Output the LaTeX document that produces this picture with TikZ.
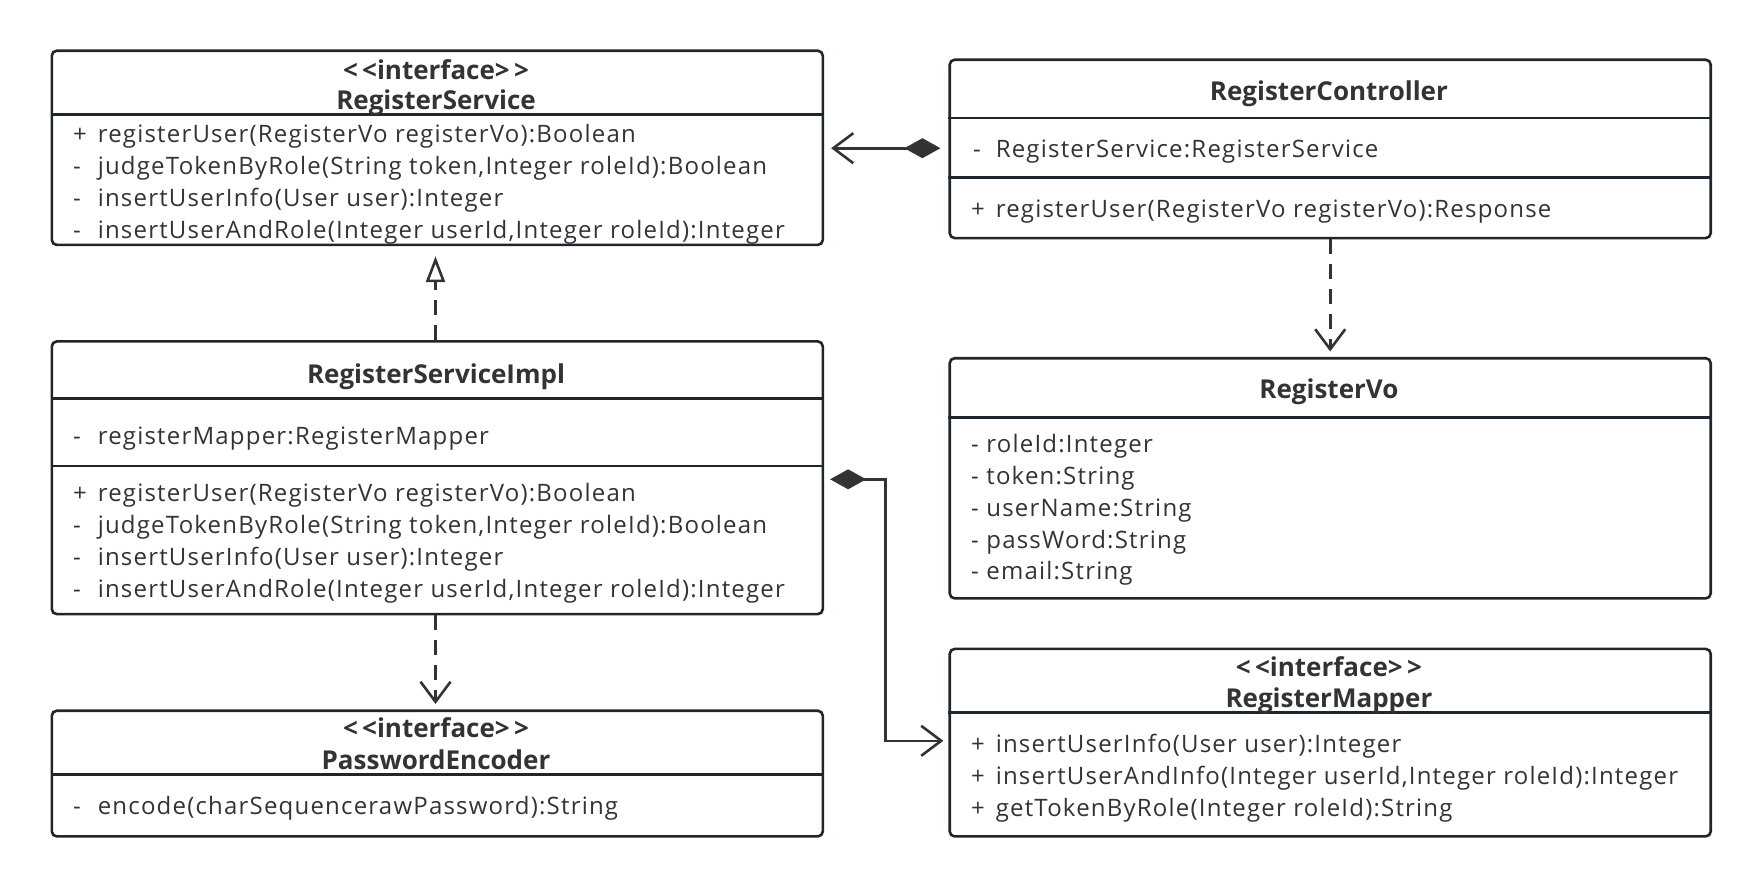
\documentclass[tikz,border=0pt]{standalone}
\usepackage{fontspec}
\setmainfont{Open Sans}
\newfontfamily\memberfont[LetterSpace=5]{Open Sans}
\usetikzlibrary{arrows.meta}
\definecolor{boxline}{HTML}{1F262D}
\definecolor{inkgray}{HTML}{333333}

\begin{document}
\begin{tikzpicture}[x=1pt,y=-1pt,
  umlbox/.style={draw=boxline, line width=2.6pt, rounded corners=5pt, anchor=north west, inner sep=0pt},
  divider/.style={draw=boxline, line width=2.6pt},
  member/.style={anchor=west, inner sep=0pt, yshift=-5pt, text=inkgray, font=\memberfont\fontsize{24}{28}\selectfont, text height=0.9em, text depth=0.1em},
  headline/.style={anchor=center, inner sep=0pt, yshift=-6.5pt, text=inkgray, font=\fontsize{26}{30}\selectfont\bfseries, text height=0.9em, text depth=0.1em},
  link/.style={draw=inkgray, line width=2.6pt},
  depend/.style={link, dash pattern=on 15pt off 10pt, -{Straight Barb[length=20pt,width=30pt]}},
  realize/.style={link, dash pattern=on 15pt off 10pt, -{Triangle[open,length=26pt,width=19pt]}},
  compose/.style={link, {Diamond[length=36pt,width=20pt]}-{Straight Barb[length=20pt,width=30pt]}}]
\useasboundingbox (0,0) rectangle (1760,886);

% class boxes
\node[umlbox, minimum width=771pt, minimum height=194.2pt] (svc) at (50.5,49.4) {};
\node[umlbox, minimum width=761pt, minimum height=178.4pt] (ctrl) at (948.4,58.4) {};
\node[umlbox, minimum width=771pt, minimum height=272.7pt] (impl) at (50.5,340.1) {};
\node[umlbox, minimum width=761pt, minimum height=240.2pt] (vo) at (948.4,356.9) {};
\node[umlbox, minimum width=771pt, minimum height=125.7pt] (pwd) at (50.5,709.4) {};
\node[umlbox, minimum width=761pt, minimum height=187.5pt] (mapper) at (948.4,647.6) {};

\draw[divider] (svc.west |- 0,114.5) -- (svc.east |- 0,114.5);
\draw[divider] (ctrl.west |- 0,117.9) -- (ctrl.east |- 0,117.9);
\draw[divider] (ctrl.west |- 0,177.3) -- (ctrl.east |- 0,177.3);
\draw[divider] (impl.west |- 0,398.5) -- (impl.east |- 0,398.5);
\draw[divider] (impl.west |- 0,465.8) -- (impl.east |- 0,465.8);
\draw[divider] (vo.west |- 0,417.5) -- (vo.east |- 0,417.5);
\draw[divider] (pwd.west |- 0,774.5) -- (pwd.east |- 0,774.5);
\draw[divider] (mapper.west |- 0,712.7) -- (mapper.east |- 0,712.7);

% headers
\node[headline] (svcst) at (436,68.5) {<\,<interface>\,>};
\node[headline] (svct) at (436,98.8) {RegisterService};
\node[headline] (ctrlt) at (1328.9,89.8) {RegisterController};
\node[headline] (implt) at (436,372.6) {RegisterServiceImpl};
\node[headline] (vot) at (1328.9,388.4) {RegisterVo};
\node[headline] (pwdst) at (436,727.3) {<\,<interface>\,>};
\node[headline] (pwdt) at (436,758.7) {PasswordEncoder};
\node[headline] (mapst) at (1328.9,665.6) {<\,<interface>\,>};
\node[headline] (mapt) at (1328.9,697) {RegisterMapper};

% members
\foreach \who/\top in {svc/133.6, impl/492.7}
  \foreach \p/\m [count=\i from 0] in {+/{registerUser(RegisterVo registerVo):Boolean},
      -/{judgeTokenByRole(String token,Integer roleId):Boolean},
      -/{insertUserInfo(User user):Integer},
      -/{insertUserAndRole(Integer userId,Integer roleId):Integer}} {
    \node[member] (\who p\i) at (73,\top+31.8*\i) {\p};
    \node[member] (\who m\i) at (97.6,\top+31.8*\i) {\m};
  }
\node[member] (implap) at (73,435.5) {-};
\node[member] (implam) at (97.6,435.5) {registerMapper:RegisterMapper};
\node[member] (ctrlap) at (973,148.2) {-};
\node[member] (ctrlam) at (995.6,148.2) {RegisterService:RegisterService};
\node[member] (ctrlmp) at (971,208.8) {+};
\node[member] (ctrlmm) at (995.6,208.8) {registerUser(RegisterVo registerVo):Response};
\foreach \a [count=\i from 0] in {roleId:Integer, token:String, userName:String, passWord:String, email:String}
  \node[member] (voa\i) at (971,443.3+31.9*\i) {- \a};
\node[member] (pwdmp) at (73,805.9) {-};
\node[member] (pwdmm) at (97.6,805.9) {encode(charSequencerawPassword):String};
\foreach \m [count=\i from 0] in {{insertUserInfo(User user):Integer},
    {insertUserAndInfo(Integer userId,Integer roleId):Integer},
    {getTokenByRole(Integer roleId):String}} {
  \node[member] (mapp\i) at (971,743+32*\i) {+};
  \node[member] (mapm\i) at (995.6,743+32*\i) {\m};
}

% relations
\draw[compose, shorten <=8pt, shorten >=7pt] (ctrl.west |- 0,148.2) -- (svc.east |- 0,148.2);
\draw[realize, shorten >=10pt] (impl.north -| 435.5,0) -- (svc.south -| 435.5,0);
\draw[depend, shorten >=5.5pt] (ctrl.south) -- (vo.north);
\draw[depend, shorten >=5.5pt] (impl.south -| 435.5,0) -- (pwd.north -| 435.5,0);
\draw[compose, shorten <=6pt, shorten >=5pt] (impl.east |- 0,479.3) -- (885.6,479.3) -- (885.6,740.8) -- (mapper.west |- 0,740.8);
\end{tikzpicture}
\end{document}
